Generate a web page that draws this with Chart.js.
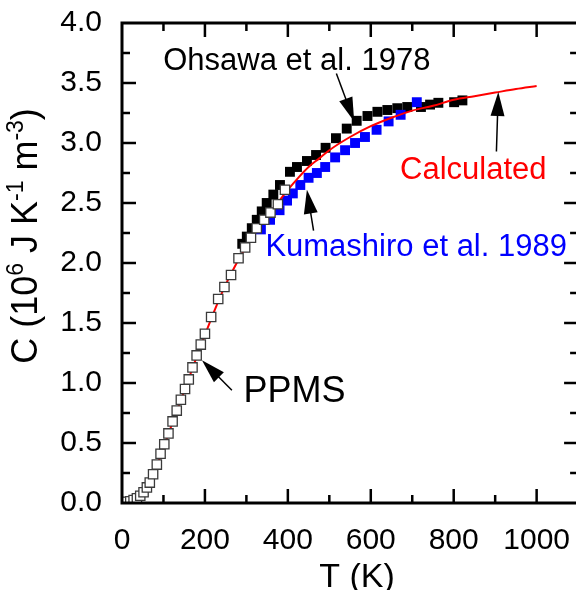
<!DOCTYPE html>
<html>
<head>
<meta charset="utf-8">
<script src="https://cdn.jsdelivr.net/npm/chart.js@4.4.0/dist/chart.umd.min.js"></script>
<style>
  html, body { margin: 0; padding: 0; background: #ffffff; overflow: hidden; width: 576px; height: 590px; }
  #chart_cp { display: block; }
</style>
</head>
<body>
<canvas id="chart_cp" width="586" height="590"></canvas>
<script>
// PPMS (open squares)
const ppmsT = [5, 12, 20, 28, 36, 44, 52, 60, 67, 75, 84, 93, 102, 112, 122, 132, 142, 152, 161, 170, 180, 190, 200, 215, 232, 247, 263, 281, 297, 311, 325, 343, 358, 376, 393];
const ppmsC = [0.005, 0.01, 0.015, 0.025, 0.04, 0.06, 0.09, 0.13, 0.17, 0.24, 0.32, 0.41, 0.49, 0.58, 0.68, 0.77, 0.86, 0.95, 1.03, 1.13, 1.23, 1.32, 1.41, 1.55, 1.70, 1.80, 1.90, 2.04, 2.13, 2.21, 2.29, 2.36, 2.42, 2.49, 2.61];

// Ohsawa et al. 1978 (black squares)
const ohsawaT = [290, 301, 313, 325, 337, 349, 365, 381, 405, 422, 446, 468, 491, 516, 542, 566, 592, 616, 640, 664, 688, 721, 743, 763, 801, 821];
const ohsawaC = [2.16, 2.22, 2.29, 2.36, 2.43, 2.50, 2.57, 2.65, 2.76, 2.80, 2.85, 2.90, 2.96, 3.04, 3.12, 3.185, 3.225, 3.26, 3.275, 3.29, 3.30, 3.30, 3.32, 3.335, 3.34, 3.355];

// Kumashiro et al. 1989 (blue squares)
const kumaT = [335, 357, 380, 398, 412, 430, 450, 470, 490, 514, 538, 562, 586, 614, 643, 672, 711];
const kumaC = [2.28, 2.36, 2.44, 2.52, 2.58, 2.65, 2.71, 2.75, 2.80, 2.88, 2.94, 3.00, 3.05, 3.11, 3.18, 3.235, 3.34];

// Calculated (red line)
const calcT = [0, 25, 50, 75, 100, 125, 150, 175, 200, 225, 250, 275, 300, 325, 350, 375, 400, 425, 450, 475, 500, 550, 600, 650, 700, 750, 800, 850, 900, 950, 1000];
const calcC = [0, 0.02, 0.08, 0.23, 0.46, 0.70, 0.93, 1.17, 1.40, 1.62, 1.82, 1.99, 2.14, 2.27, 2.39, 2.50, 2.61, 2.71, 2.80, 2.87, 2.94, 3.05, 3.14, 3.21, 3.27, 3.31, 3.36, 3.39, 3.42, 3.45, 3.475];

const ticksX = [0, 200, 400, 600, 800, 1000];
const ticksY = [0, 0.5, 1.0, 1.5, 2.0, 2.5, 3.0, 3.5, 4.0];

// annotation labels and arrows, in data units
const rotulos = [
  { texto: "Ohsawa et al. 1978", cor: "#000000", t: 99.5, c: 3.6125, tam: 31 },
  { texto: "Calculated", cor: "#ff0000", t: 670.6, c: 2.70, tam: 31 },
  { texto: "Kumashiro et al. 1989", cor: "#0000ff", t: 345.8, c: 2.058, tam: 31 },
  { texto: "PPMS", cor: "#000000", t: 293, c: 0.844, tam: 36 },
];
const setas = [
  { de: [517, 3.58], para: [560, 3.18] },
  { de: [903, 2.93], para: [907.5, 3.425] },
  { de: [462, 2.27], para: [446, 2.61] },
  { de: [265, 0.94], para: [192.8, 1.19] },
];

function pares(xs, ys) {
  return xs.map((x, i) => ({ x: x, y: ys[i] }));
}

const eixos = {
  id: "eixos",
  afterDatasetsDraw(chart) {
    const ctx = chart.ctx;
    const a = chart.chartArea;
    const sx = chart.scales.x;
    const sy = chart.scales.y;
    ctx.save();
    ctx.strokeStyle = "#000";
    ctx.lineWidth = 3;
    ctx.strokeRect(a.left, a.top, a.right - a.left, a.bottom - a.top);
    ctx.lineWidth = 2.5;
    ctx.beginPath();
    for (let v = 100; v <= 1100; v += 100) {
      const px = sx.getPixelForValue(v);
      const len = v % 200 === 0 ? 14 : 8;
      ctx.moveTo(px, a.bottom); ctx.lineTo(px, a.bottom - len);
      ctx.moveTo(px, a.top); ctx.lineTo(px, a.top + len);
    }
    for (let k = 1; k < 16; k++) {
      const v = k * 0.25;
      const py = sy.getPixelForValue(v);
      const len = k % 2 === 0 ? 14 : 8;
      ctx.moveTo(a.left, py); ctx.lineTo(a.left + len, py);
      ctx.moveTo(a.right, py); ctx.lineTo(a.right - len, py);
    }
    ctx.stroke();
    ctx.restore();
  },
  afterDraw(chart) {
    const ctx = chart.ctx;
    const sx = chart.scales.x;
    const sy = chart.scales.y;
    ctx.save();
    // arrows
    setas.forEach((s) => {
      const x0 = sx.getPixelForValue(s.de[0]), y0 = sy.getPixelForValue(s.de[1]);
      const x1 = sx.getPixelForValue(s.para[0]), y1 = sy.getPixelForValue(s.para[1]);
      const ang = Math.atan2(y1 - y0, x1 - x0);
      const cab = 24, meia = 7;
      ctx.strokeStyle = "#000";
      ctx.lineWidth = 1.5;
      ctx.beginPath();
      ctx.moveTo(x0, y0);
      ctx.lineTo(x1 - Math.cos(ang) * cab * 0.8, y1 - Math.sin(ang) * cab * 0.8);
      ctx.stroke();
      ctx.fillStyle = "#000";
      ctx.beginPath();
      ctx.moveTo(x1, y1);
      ctx.lineTo(x1 - Math.cos(ang) * cab - Math.sin(ang) * meia, y1 - Math.sin(ang) * cab + Math.cos(ang) * meia);
      ctx.lineTo(x1 - Math.cos(ang) * cab + Math.sin(ang) * meia, y1 - Math.sin(ang) * cab - Math.cos(ang) * meia);
      ctx.closePath();
      ctx.fill();
    });
    // labels
    ctx.textBaseline = "alphabetic";
    ctx.textAlign = "left";
    rotulos.forEach((r) => {
      ctx.font = r.tam + "px 'Liberation Sans', Arial, sans-serif";
      ctx.fillStyle = r.cor;
      ctx.fillText(r.texto, sx.getPixelForValue(r.t), sy.getPixelForValue(r.c));
    });
    // x title
    ctx.fillStyle = "#000";
    ctx.font = "34px 'Liberation Sans', Arial, sans-serif";
    ctx.textAlign = "center";
    ctx.fillText("T (K)", 357, 587);
    // y title with superscripts
    const partes = [
      ["C (10", 36, 0], ["6", 23, -14], [" J K", 36, 0], ["-1", 23, -14],
      [" m", 36, 0], ["-3", 23, -14], [")", 36, 0],
    ];
    let total = 0;
    partes.forEach((p) => {
      ctx.font = p[1] + "px 'Liberation Sans', Arial, sans-serif";
      total += ctx.measureText(p[0]).width;
    });
    ctx.translate(37, 236);
    ctx.rotate(-Math.PI / 2);
    ctx.textAlign = "left";
    let pos = -total / 2;
    partes.forEach((p) => {
      ctx.font = p[1] + "px 'Liberation Sans', Arial, sans-serif";
      ctx.fillText(p[0], pos, p[2]);
      pos += ctx.measureText(p[0]).width;
    });
    ctx.restore();
  },
};

function desenharGraficoCp() {
  new Chart(document.getElementById("chart_cp"), {
    type: "scatter",
    data: {
      datasets: [
        {
          label: "PPMS",
          data: pares(ppmsT, ppmsC),
          pointStyle: "rect",
          pointRadius: 6.6,
          backgroundColor: "#ffffff",
          borderColor: "#3a3a3a",
          borderWidth: 1.3,
          order: 1,
        },
        {
          label: "Calculated",
          data: pares(calcT, calcC),
          showLine: true,
          borderColor: "#ff0000",
          borderWidth: 2,
          pointRadius: 0,
          cubicInterpolationMode: "monotone",
          order: 2,
        },
        {
          label: "Kumashiro et al. 1989",
          data: pares(kumaT, kumaC),
          pointStyle: "rect",
          pointRadius: 7,
          backgroundColor: "#0000ff",
          borderWidth: 0,
          order: 3,
        },
        {
          label: "Ohsawa et al. 1978",
          data: pares(ohsawaT, ohsawaC),
          pointStyle: "rect",
          pointRadius: 7,
          backgroundColor: "#000000",
          borderWidth: 0,
          order: 4,
        },
      ],
    },
    options: {
      responsive: false,
      animation: false,
      devicePixelRatio: 1,
      layout: { padding: { left: 0, right: 0, top: 23, bottom: 0 } },
      scales: {
        x: {
          type: "linear",
          min: 0,
          max: 1100,
          afterFit(scale) {
            scale.height = 87;
            scale.paddingLeft = 0;
            scale.paddingRight = 0;
          },
          afterBuildTicks(scale) { scale.ticks = ticksX.map((v) => ({ value: v })); },
          grid: { display: false, drawTicks: false },
          border: { display: false },
          ticks: { padding: 20, font: { size: 30 }, color: "#000", maxRotation: 0, callback: (v) => String(v) },
        },
        y: {
          type: "linear",
          min: 0,
          max: 4,
          afterFit(scale) {
            scale.width = 122;
            scale.paddingTop = 0;
            scale.paddingBottom = 0;
          },
          afterBuildTicks(scale) { scale.ticks = ticksY.map((v) => ({ value: v })); },
          grid: { display: false, drawTicks: false },
          border: { display: false },
          ticks: {
            padding: 20,
            font: { size: 30 },
            color: "#000",
            callback: (v) => v.toFixed(1),
          },
        },
      },
      plugins: {
        legend: { display: false },
        tooltip: { enabled: false },
      },
    },
    plugins: [eixos],
  });
}

Chart.defaults.color = "#000000";
Chart.defaults.font.family = "'Liberation Sans', Arial, sans-serif";
desenharGraficoCp();
</script>
</body>
</html>
